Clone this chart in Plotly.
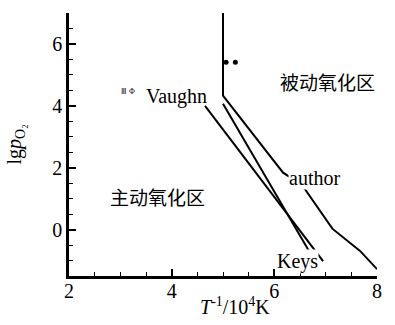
import plotly.graph_objects as go

# Boundary between active and passive oxidation (present work)
author_x = [5.0, 5.0, 6.17, 6.54, 7.13, 7.67, 8.0]
author_y = [7.0, 4.33, 1.84, 1.44, 0.03, -0.69, -1.28]

# Vaughn boundary
vaughn_x = [4.65, 6.95]
vaughn_y = [4.0, -1.02]

# Keys boundary
keys_x = [5.0, 6.8]
keys_y = [4.07, -1.05]

# Two marker points near the vertical boundary
dot_x = [5.06, 5.24]
dot_y = [5.41, 5.41]

x_ticks = [2, 4, 6, 8]
y_ticks = [0, 2, 4, 6]

SERIF = "Liberation Serif, Times New Roman, serif"
CJK = "Liberation Serif, Noto Sans CJK SC, serif"

fig = go.Figure()
line_style = dict(color="black", width=2)
fig.add_trace(go.Scatter(x=author_x, y=author_y, mode="lines", line=line_style, name="author"))
fig.add_trace(go.Scatter(x=vaughn_x, y=vaughn_y, mode="lines", line=line_style, name="Vaughn"))
fig.add_trace(go.Scatter(x=keys_x, y=keys_y, mode="lines", line=line_style, name="Keys"))
fig.add_trace(go.Scatter(x=dot_x, y=dot_y, mode="markers",
                         marker=dict(color="black", size=5), name="points"))

label_font = dict(family=SERIF, size=20, color="black")
labels = [
    dict(x=7.03, y=4.72, text="被动氧化区", font=dict(family=CJK, size=19, color="black")),
    dict(x=3.73, y=1.0, text="主动氧化区", font=dict(family=CJK, size=19, color="black")),
    dict(x=6.78, y=1.67, text="author", font=label_font, bgcolor="white"),
    dict(x=6.46, y=-1.02, text="Keys", font=label_font, bgcolor="white"),
    dict(x=4.1, y=4.3, text="Vaughn", font=label_font),
    dict(x=3.15, y=4.45, text="Ⅲ Φ", font=dict(family=SERIF, size=8, color="#222222")),
]
for a in labels:
    fig.add_annotation(xref="x", yref="y", showarrow=False, borderpad=0, **a)

# Axis titles
fig.add_annotation(xref="paper", yref="paper", x=0.54, y=-0.115, yanchor="middle",
                   showarrow=False,
                   text="<i>T</i><sup>-1</sup>/10<sup>4</sup>K",
                   font=dict(family=SERIF, size=20, color="black"))
fig.add_annotation(xref="paper", yref="paper", x=-0.175, y=0.5, xanchor="center",
                   showarrow=False, textangle=-90,
                   text="lg<i>p</i><sub>O₂</sub>",
                   font=dict(family=SERIF, size=20, color="black"))

axis_common = dict(
    showgrid=False, zeroline=False, showline=True, linecolor="black", linewidth=2.5,
    ticks="inside", ticklen=7, tickwidth=1.5, tickcolor="black",
    tickfont=dict(family=SERIF, size=20, color="black"),
    minor=dict(ticks="inside", ticklen=4, tickwidth=1, tickcolor="black", dtick=0.5),
)

fig.update_xaxes(range=[2, 8], tickvals=x_ticks, ticklabelstandoff=-5, **axis_common)
fig.update_yaxes(range=[-1.5, 7], tickvals=y_ticks, **axis_common)

fig.update_layout(
    width=395, height=325,
    margin=dict(l=69, r=18, t=13, b=49),
    plot_bgcolor="white", paper_bgcolor="white",
    showlegend=False,
)

fig.write_html("out.html")
